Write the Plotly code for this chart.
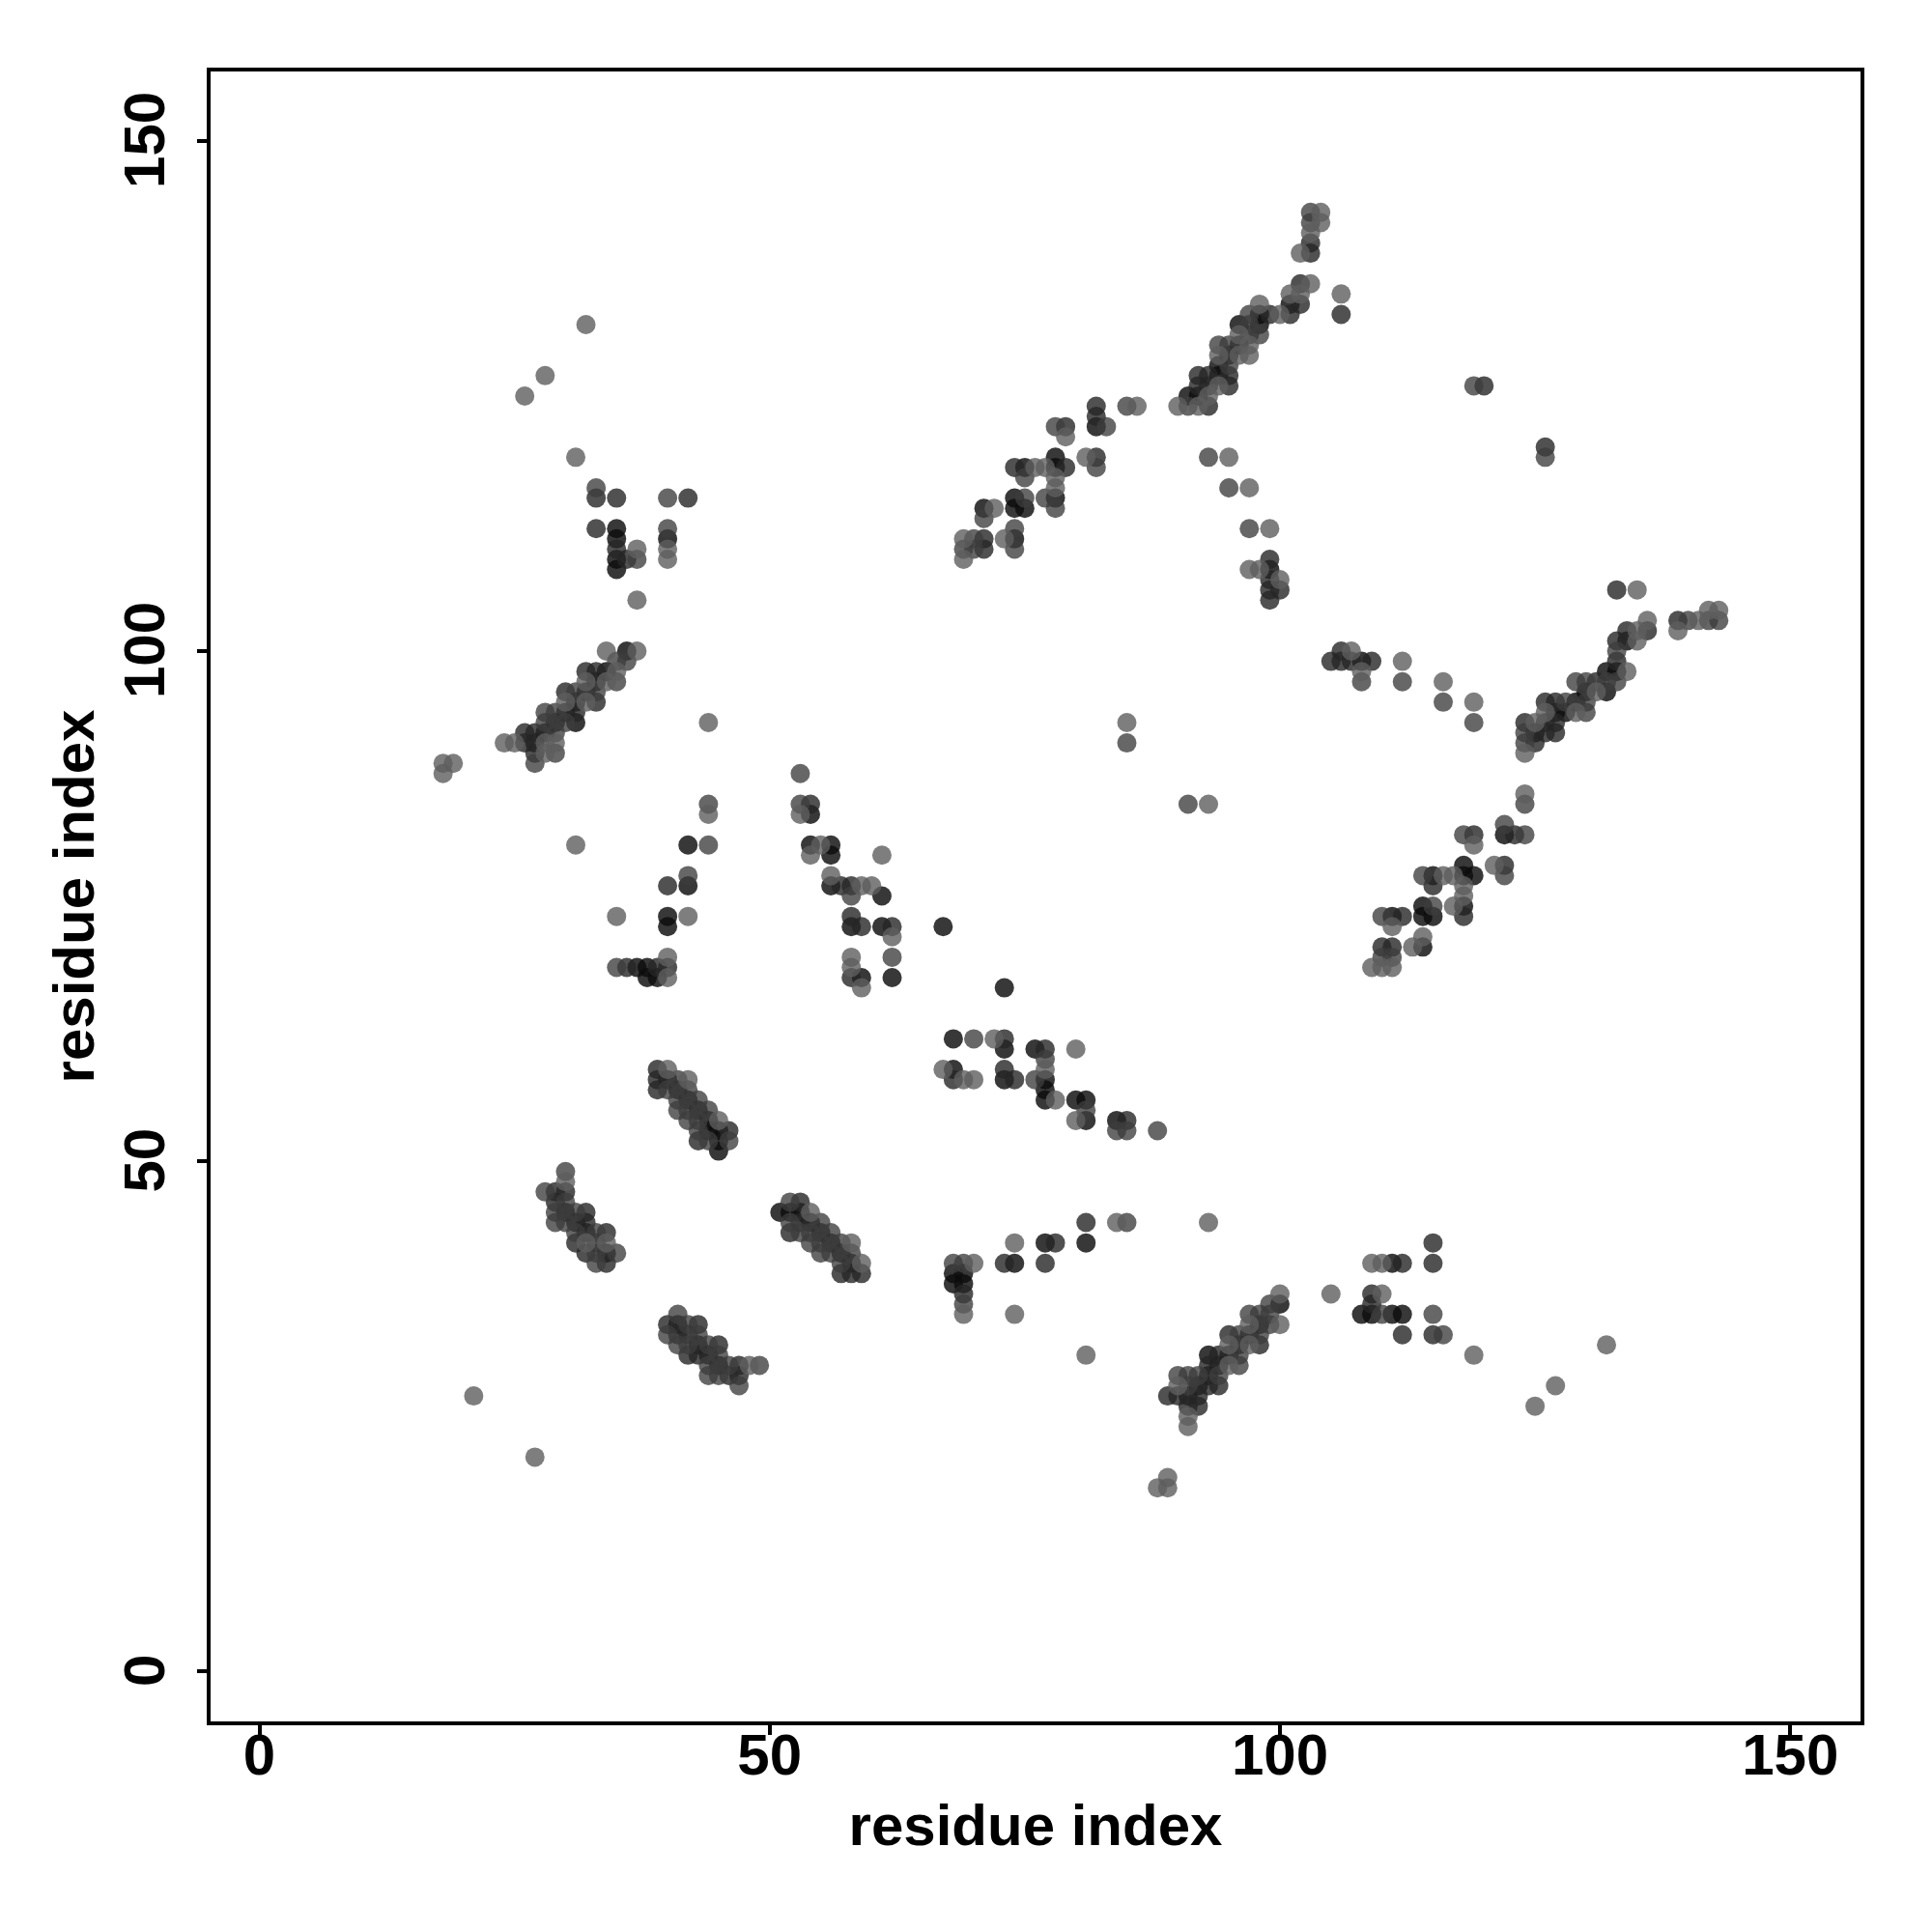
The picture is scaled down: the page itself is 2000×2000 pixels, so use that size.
import plotly.graph_objects as go

# contacts (residue i, residue j), grouped by contact strength
contacts_strongest = [
 (36,100),(34,98),(33,97),(32,96),(31,95),(30,94),(29,93),(31,93),(28,92),(27,91),
 (35,112),(35,111),(35,109),(35,108),(40,111),(42,81),(54,84),(54,81),(56,81),(56,80),(56,77),(42,77),(61,76),
 (40,74),(40,73),(58,73),(61,73),(67,73),(38,69),(37,69),(38,68),(39,68),(59,68),(62,68),
 (134,101),(133,98),(132,98),(132,96),(130,96),(129,95),(128,94),(127,94),(125,92),
 (122,82),(118,79),(118,78),(119,78),(118,75),(115,78),(114,75),(114,74),(115,74),(111,74),(114,71),
 (108,99),(99,108),(98,133),(98,132),(96,132),(96,130),(95,129),(94,128),(94,127),(91,125),(92,125),(101,134),
 (82,122),(78,119),(78,118),(75,118),(71,114),(74,115),(74,114),(75,114),(74,111),(78,115),
 (68,62),(68,59),(73,67),(73,61),(76,61),(73,58),(77,58),(77,57),(77,56),(80,56),(81,56),(81,54),(84,54),
 (68,39),(68,38),(69,39),(69,38),(74,40),(77,42),(81,42),(111,40),(108,35),(109,35),(111,35),(112,35),
 (100,36),(98,34),(97,33),(96,32),(95,31),(93,31),(94,30),(93,29),(92,28),(91,27),
 (30,45),(31,44),(32,43),(34,41),(41,34),(43,32),(44,31),(45,30),
 (40,58),(41,57),(42,56),(43,55),(44,54),(44,53),(45,53),(45,52),(45,51),
 (51,45),(52,45),(53,45),(54,44),(55,43),(56,42),(57,41),(58,40),
]
contacts_strong = [
 (33,115),(33,112),(36,109),(35,115),(42,115),(35,110),
 (32,98),(33,98),(30,96),(33,95),(31,94),(26,92),(27,92),(26,91),(27,90),
 (136,102),(134,102),(133,101),(133,99),(131,97),(127,95),(126,95),(126,93),(127,93),(127,92),(126,92),(124,93),(125,91),
 (139,103),(133,106),(120,126),(126,120),(106,133),
 (99,109),(99,107),(99,106),(100,106),(99,105),(105,99),(106,100),(106,99),(107,99),(109,99),
 (119,82),(123,82),(122,79),(118,74),(115,77),(112,74),(110,71),(111,71),(74,118),(79,118),(71,111),(71,110),
 (103,140),(103,139),(102,136),(102,134),(101,133),(99,133),(97,131),(95,127),(92,127),(93,127),(92,126),(93,126),(95,126),(93,124),
 (82,124),(82,123),(79,122),(82,119),(54,85),(57,77),(58,77),(40,77),(58,74),(59,73),(62,73),(36,69),(39,69),(40,69),(58,68),
 (73,62),(77,61),(73,59),(74,58),(68,58),(85,54),(69,37),(73,40),(78,42),(77,40),(81,44),(112,40),(115,42),(115,40),
 (109,37),(109,36),(112,33),(115,33),(98,32),(95,33),(94,31),(93,30),(94,28),(93,28),(89,27),(90,27),(92,27),(91,26),(92,26),
 (30,47),(29,47),(29,46),(32,45),(32,44),(31,42),(34,43),(33,42),(32,41),(34,40),
 (40,34),(43,34),(41,33),(42,33),(45,32),(42,31),(43,31),(47,30),(46,29),(47,29),
 (39,59),(39,58),(39,57),(46,53),(43,52),
 (53,46),(53,44),(52,43),(57,39),(58,39),(59,39),
]
contacts_medium = [
 (33,116),(37,109),(40,115),(40,112),(35,99),(36,99),(35,97),(31,96),(33,96),(28,94),(29,94),(28,93),(30,93),(29,92),(29,90),(27,89),
 (133,97),(132,97),(129,97),(130,97),(128,95),(130,95),(130,94),(133,100),(124,92),(124,91),(140,103),(142,103),(143,103),
 (119,126),(126,119),(93,119),(95,116),(97,112),(85,124),(85,91),(91,85),(108,97),(112,97),(116,95),(119,93),(124,85),
 (122,83),(124,82),(118,82),(122,78),(114,78),(115,75),(110,74),(110,70),(111,70),
 (74,112),(74,110),(70,111),(69,110),(70,110),(75,117),(75,115),(77,115),(78,114),(71,113),
 (103,143),(103,142),(97,133),(97,132),(98,131),(94,130),(95,130),(95,128),(91,124),
 (78,122),(83,122),(82,118),
 (53,88),(53,85),(44,85),(44,81),(58,76),(42,78),(62,70),(35,69),
 (70,62),(77,60),(76,58),(81,55),(84,53),(85,53),(88,53),(69,40),(68,40),(69,36),(85,44),(115,35),(110,35),(116,33),
 (99,36),(99,35),(99,34),(97,35),(98,35),(98,33),(96,33),(96,31),(96,30),(90,29),(91,29),(92,29),(94,29),(91,28),
 (30,49),(28,47),(30,46),(29,45),(31,45),(29,44),(30,44),(31,43),(33,43),(33,41),(35,41),(33,40),
 (41,35),(42,34),(40,33),(43,33),(41,32),(42,32),(44,32),(45,31),(44,29),(45,29),(44,30),(46,30),(49,30),(47,28),
 (41,58),(40,57),(42,57),(41,56),(43,56),(41,55),(42,55),(44,55),(42,54),(43,54),(43,53),(44,52),(46,52),
 (52,46),(52,44),(55,44),(53,43),(54,43),(56,43),(54,42),(55,42),(57,42),(55,41),(56,41),(58,41),(57,40),
]
contacts_weak = [
 (32,132),(28,127),(26,125),(31,119),(37,110),(37,105),(40,110),(40,109),
 (18,89),(19,89),(18,88),(24,91),(25,91),(34,100),(37,100),(35,98),(32,97),(34,97),(30,95),(32,95),(28,91),(29,91),(28,90),
 (136,103),(135,102),(135,101),(134,98),(131,96),(129,94),(126,94),(125,93),(124,90),(139,102),(141,103),(142,104),(143,104),(135,106),
 (106,135),(95,119),(97,116),(99,112),(97,108),(98,108),(100,107),(86,124),(85,93),(93,85),
 (107,100),(108,98),(112,99),(116,97),(119,95),(124,86),(119,81),(121,79),(116,78),(117,78),(118,77),(118,76),(117,75),(111,73),(114,72),(113,71),
 (109,69),(110,69),(111,69),(76,118),(77,118),(78,117),(78,116),(72,114),(73,111),(69,111),(69,109),
 (104,143),(104,142),(103,141),(102,139),(103,136),(101,135),(102,135),(100,133),(98,134),(96,131),(97,130),(94,129),(96,129),(97,129),(94,126),(93,125),(90,124),(92,124),
 (79,121),(81,119),(44,93),(53,84),(44,84),(31,81),(55,81),(54,80),(61,80),(56,78),(59,77),(60,77),(35,74),(42,74),(62,72),(58,70),(58,69),(40,70),(59,67),(40,68),
 (67,59),(72,62),(69,58),(70,58),(80,61),(77,59),(78,56),(80,54),(70,40),(69,35),(74,42),(84,44),(93,44),(74,35),(81,31),
 (105,37),(109,40),(110,40),(110,37),(119,31),(132,32),(127,28),(125,26),(89,19),(88,18),(89,18),
 (100,37),(100,34),(97,34),(95,32),(97,32),(95,30),(90,28),(91,25),(91,24),
 (30,48),(32,42),(34,42),(48,30),(40,59),(42,58),(45,54),(54,45),(58,42),(59,40),(21,27),(27,21),
]

axis_ticks = [0, 50, 100, 150]
axis_label = "residue index"

fig = go.Figure()
for pts, col in [(contacts_strongest, "rgba(12,12,12,0.82)"),
                 (contacts_strong, "rgba(38,38,38,0.8)"),
                 (contacts_medium, "rgba(60,60,60,0.78)"),
                 (contacts_weak, "rgba(94,94,94,0.8)")]:
    fig.add_trace(go.Scatter(x=[p[0] for p in pts], y=[p[1] for p in pts], mode="markers",
                             marker=dict(size=20, color=col, line=dict(width=0)), showlegend=False))

axis = dict(tickvals=axis_ticks, ticks="outside", ticklen=10, tickwidth=3.5, tickcolor="black",
            showline=True, linewidth=3.5, linecolor="black", mirror=True, showgrid=False, zeroline=False,
            tickfont=dict(family="Liberation Sans", size=60, color="black", weight="bold"),
            automargin=False)
title_font = dict(family="Liberation Sans", size=60, color="black", weight="bold")
fig.update_layout(
    width=2000, height=2000, autosize=False,
    margin=dict(l=210, r=82, t=66, b=226, pad=0),
    paper_bgcolor="white", plot_bgcolor="white", showlegend=False,
    xaxis=dict(axis, range=[-4.78, 156.89], ticklabelstandoff=-31,
               title=dict(text=axis_label, standoff=20, font=title_font)),
    yaxis=dict(axis, range=[-4.9, 156.81], tickangle=-90, ticklabelstandoff=10, ticklabelshift=8,
               title=dict(text=axis_label, standoff=0, font=title_font)),
)
fig.write_html("out.html")
